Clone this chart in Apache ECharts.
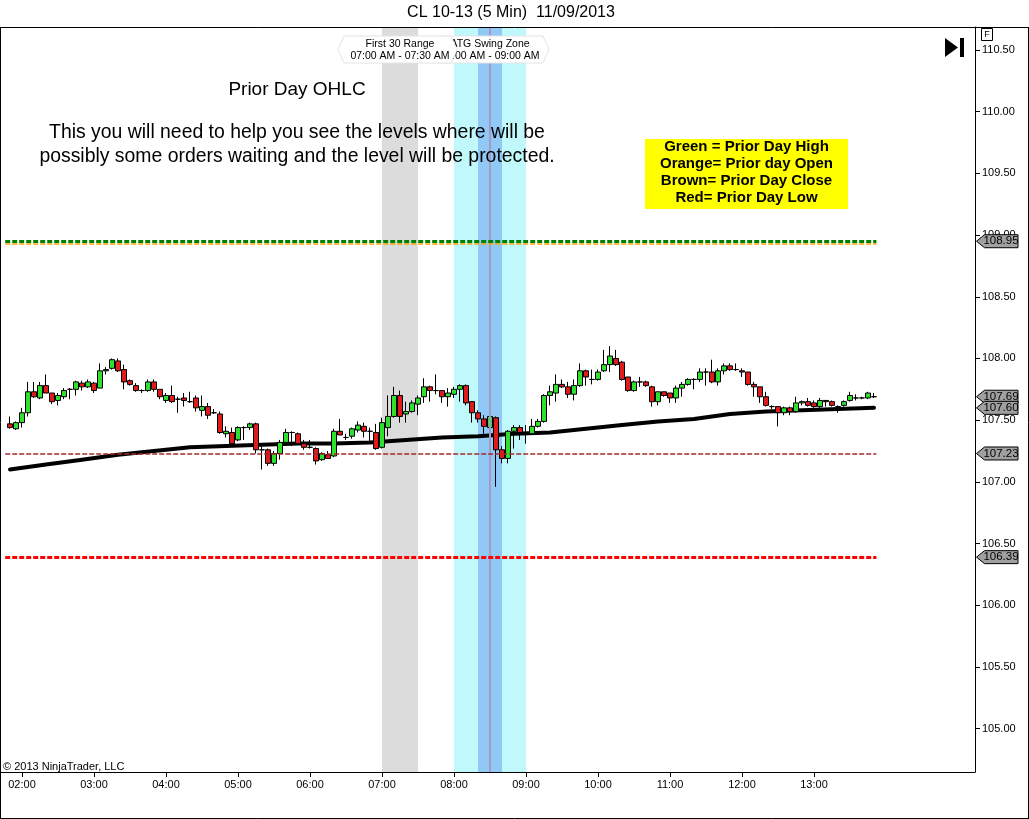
<!DOCTYPE html>
<html>
<head>
<meta charset="utf-8">
<script src="https://cdn.jsdelivr.net/npm/echarts@6/dist/echarts.min.js"></script>
<style>
html,body{margin:0;padding:0;background:#fff;}
#chart{width:1029px;height:819px;}
</style>
</head>
<body>
<div id="chart"></div>
<script>
// ---------------- DATA ----------------
const titleText = 'CL 10-13 (5 Min)  11/09/2013';
const barTimes = [
 '01:50','01:55',
 '02:00','02:05','02:10','02:15','02:20','02:25','02:30','02:35','02:40','02:45','02:50','02:55',
 '03:00','03:05','03:10','03:15','03:20','03:25','03:30','03:35','03:40','03:45','03:50','03:55',
 '04:00','04:05','04:10','04:15','04:20','04:25','04:30','04:35','04:40','04:45','04:50','04:55',
 '05:00','05:05','05:10','05:15','05:20','05:25','05:30','05:35','05:40','05:45','05:50','05:55',
 '06:00','06:05','06:10','06:15','06:20','06:25','06:30','06:35','06:40','06:45','06:50','06:55',
 '07:00','07:05','07:10','07:15','07:20','07:25','07:30','07:35','07:40','07:45','07:50','07:55',
 '08:00','08:05','08:10','08:15','08:20','08:25','08:30','08:35','08:40','08:45','08:50','08:55',
 '09:00','09:05','09:10','09:15','09:20','09:25','09:30','09:35','09:40','09:45','09:50','09:55',
 '10:00','10:05','10:10','10:15','10:20','10:25','10:30','10:35','10:40','10:45','10:50','10:55',
 '11:00','11:05','11:10','11:15','11:20','11:25','11:30','11:35','11:40','11:45','11:50','11:55',
 '12:00','12:05','12:10','12:15','12:20','12:25','12:30','12:35','12:40','12:45','12:50','12:55',
 '13:00','13:05','13:10','13:15','13:20','13:25','13:30','13:35','13:40','13:45','13:50'
];
const opens = [
 107.47,107.43,107.48,107.56,107.73,107.68,107.78,107.72,107.66,107.69,
 107.75,107.75,107.80,107.77,107.80,107.76,107.90,107.92,107.98,107.91,
 107.82,107.78,107.74,107.74,107.81,107.75,107.66,107.70,107.67,107.68,
 107.65,107.68,107.58,107.61,107.56,107.55,107.39,107.40,107.34,107.44,
 107.44,107.47,107.26,107.26,107.15,107.23,107.32,107.40,107.39,107.31,
 107.28,107.27,107.18,107.22,107.21,107.41,107.36,107.37,107.42,107.45,
 107.41,107.40,107.28,107.44,107.53,107.70,107.55,107.57,107.63,107.69,
 107.77,107.74,107.74,107.69,107.71,107.75,107.78,107.65,107.56,107.51,
 107.44,107.52,107.26,107.19,107.41,107.44,107.39,107.39,107.45,107.49,
 107.70,107.72,107.79,107.77,107.71,107.78,107.90,107.83,107.83,107.90,
 107.95,108.00,107.97,107.85,107.74,107.81,107.81,107.77,107.65,107.73,
 107.72,107.68,107.76,107.79,107.83,107.83,107.89,107.89,107.81,107.90,
 107.94,107.91,107.90,107.89,107.79,107.77,107.69,107.61,107.61,107.56,
 107.60,107.57,107.64,107.65,107.64,107.61,107.66,107.65,107.61,107.62,
 107.66,107.68,107.68,107.68,107.69
];
const closes = [
 107.44,107.48,107.56,107.73,107.69,107.78,107.72,107.65,107.70,107.74,
 107.75,107.81,107.77,107.81,107.74,107.90,107.91,107.99,107.90,107.81,
 107.79,107.74,107.74,107.81,107.75,107.69,107.70,107.65,107.67,107.66,
 107.65,107.60,107.61,107.54,107.56,107.40,107.41,107.31,107.44,107.44,
 107.47,107.26,107.26,107.15,107.23,107.32,107.40,107.40,107.31,107.28,
 107.28,107.17,107.23,107.19,107.41,107.38,107.36,107.43,107.46,107.41,
 107.41,107.27,107.48,107.53,107.70,107.53,107.57,107.64,107.68,107.77,
 107.74,107.74,107.69,107.72,107.75,107.78,107.64,107.56,107.51,107.45,
 107.53,107.26,107.19,107.41,107.44,107.40,107.39,107.45,107.49,107.70,
 107.73,107.79,107.77,107.71,107.78,107.90,107.85,107.83,107.89,107.95,
 108.02,107.95,107.83,107.74,107.81,107.81,107.78,107.65,107.73,107.70,
 107.68,107.76,107.79,107.83,107.83,107.89,107.89,107.81,107.90,107.94,
 107.91,107.91,107.89,107.79,107.77,107.69,107.62,107.61,107.56,107.60,
 107.57,107.64,107.65,107.62,107.61,107.66,107.65,107.62,107.61,107.65,
 107.70,107.68,107.68,107.72,107.69
];
const lows = [
 107.43,107.42,107.44,107.53,107.68,107.67,107.72,107.63,107.62,107.67,
 107.67,107.70,107.74,107.76,107.72,107.76,107.87,107.91,107.89,107.75,
 107.78,107.73,107.72,107.73,107.73,107.67,107.64,107.64,107.56,107.61,
 107.64,107.57,107.53,107.51,107.55,107.39,107.36,107.30,107.33,107.34,
 107.42,107.23,107.10,107.13,107.13,107.18,107.30,107.29,107.30,107.26,
 107.27,107.14,107.17,107.19,107.20,107.38,107.34,107.35,107.40,107.36,
 107.32,107.26,107.27,107.37,107.52,107.48,107.48,107.56,107.54,107.64,
 107.65,107.71,107.64,107.61,107.68,107.65,107.62,107.48,107.48,107.39,
 107.39,106.96,107.15,107.15,107.27,107.34,107.31,107.38,107.44,107.48,
 107.62,107.65,107.76,107.68,107.66,107.77,107.78,107.79,107.82,107.89,
 107.89,107.94,107.82,107.73,107.73,107.77,107.77,107.61,107.62,107.69,
 107.64,107.64,107.69,107.78,107.75,107.81,107.78,107.80,107.78,107.87,
 107.90,107.90,107.85,107.78,107.69,107.64,107.61,107.59,107.45,107.54,
 107.54,107.56,107.62,107.61,107.60,107.60,107.61,107.61,107.56,107.61,
 107.65,107.66,107.67,107.67,107.68
];
const highs = [
 107.53,107.49,107.60,107.81,107.81,107.81,107.87,107.72,107.72,107.76,
 107.76,107.82,107.82,107.83,107.81,107.96,107.93,108.00,108.00,107.95,
 107.83,107.80,107.75,107.83,107.83,107.75,107.72,107.78,107.69,107.72,
 107.73,107.70,107.70,107.64,107.59,107.57,107.45,107.44,107.45,107.45,
 107.48,107.48,107.29,107.27,107.25,107.34,107.43,107.41,107.40,107.34,
 107.34,107.28,107.24,107.25,107.43,107.51,107.39,107.44,107.49,107.48,
 107.44,107.47,107.52,107.70,107.77,107.74,107.65,107.66,107.70,107.84,
 107.78,107.87,107.74,107.76,107.77,107.79,107.79,107.65,107.58,107.54,
 107.58,107.53,107.29,107.42,107.46,107.46,107.46,107.51,107.51,107.71,
 107.78,107.87,107.83,107.81,107.83,107.96,107.91,107.91,107.91,108.07,
 108.10,108.07,107.98,107.85,107.82,107.85,107.82,107.78,107.73,107.73,
 107.72,107.78,107.81,107.84,107.84,107.92,107.92,107.99,107.92,107.96,
 107.96,107.96,107.92,107.89,107.81,107.77,107.73,107.62,107.61,107.61,
 107.61,107.69,107.66,107.68,107.66,107.68,107.66,107.66,107.62,107.66,
 107.73,107.71,107.69,107.73,107.72
];
const smaTimes = ['01:50','02:20','02:50','03:20','03:50','04:20','04:50','05:20','05:50','06:20','06:50','07:20','07:50',
                  '08:20','08:50','09:20','09:50','10:20','10:50','11:20','11:50','12:20','12:50','13:20','13:50'];
const smaValues = [107.10,107.14,107.18,107.22,107.25,107.28,107.29,107.30,107.31,107.31,107.32,107.34,107.36,
                   107.37,107.39,107.40,107.43,107.46,107.49,107.51,107.55,107.57,107.58,107.59,107.60];
const levelNames = ['Prior Day High','Prior Day Open','Prior Day Close','Prior Day Low'];
const levelValues = [108.95, 108.93, 107.23, 106.39];
const priceTicks = [105.00,105.50,106.00,106.50,107.00,107.50,108.00,108.50,109.00,109.50,110.00,110.50];
const hourTicks = ['02:00','03:00','04:00','05:00','06:00','07:00','08:00','09:00','10:00','11:00','12:00','13:00'];
const zoneNames = ['First 30 Range','ATG Swing Zone'];
const zoneStarts = ['07:00','08:00'];
const zoneEnds = ['07:30','09:00'];
const zoneRangeLabels = ['07:00 AM - 07:30 AM','08:00 AM - 09:00 AM'];
const coreZone = ['08:20','08:40'];
const zoneMid = '08:30';
const noteTitle = 'Prior Day OHLC';
const noteLines = ['This you will need to help you see the levels where will be',
                   'possibly some orders waiting and the level will be protected.'];
const legendLines = ['Green = Prior Day High','Orange= Prior day Open','Brown= Prior Day Close','Red= Prior Day Low'];
const copyright = '\u00A9 2013 NinjaTrader, LLC';

// ---------------- HELPERS ----------------
const FONT = "'Liberation Sans', Arial, sans-serif";
function toMin(s){ const p = s.split(':'); return (+p[0])*60 + (+p[1]); }
function fmtMin(m){ const h = Math.floor(m/60), mm = Math.round(m%60); return String(h).padStart(2,'0')+':'+String(mm).padStart(2,'0'); }

const candleData = barTimes.map((t,i)=>[toMin(t), opens[i], closes[i], lows[i], highs[i]]);
const smaData = smaTimes.map((t,i)=>[toMin(t), smaValues[i]]);
const tFirst = toMin(barTimes[0]), tLast = toMin(barTimes[barTimes.length-1]);
const lineStart = tFirst - 4, lineEnd = tLast + 2;

const levelStyles = [
  {color:'#008000', width:3, type:[5,2]},
  {color:'#ffa500', width:1.5, type:[5,2]},
  {color:'#a52a2a', width:1.5, type:[5,2]},
  {color:'#ff0000', width:3, type:[5,2]}
];

const chart = echarts.init(document.getElementById('chart'), null, {renderer:'canvas'});

const option = {
  animation:false,
  backgroundColor:'#ffffff',
  grid:{left:1, right:54, top:27, bottom:47, containLabel:false},
  xAxis:{
    type:'value', min:102.5, max:914.17,
    splitLine:{show:false},
    axisLine:{show:true, lineStyle:{color:'#000', width:1}},
    axisTick:{show:true, length:5, lineStyle:{color:'#000'}, customValues: hourTicks.map(toMin)},
    axisLabel:{show:true, color:'#000', fontSize:11, fontFamily:FONT, margin:7,
               customValues: hourTicks.map(toMin), formatter:(v)=>fmtMin(v)}
  },
  yAxis:{
    type:'value', position:'right', min:104.649, max:110.686, scale:true,
    splitLine:{show:false},
    axisLine:{show:true, onZero:false, lineStyle:{color:'#000', width:1}},
    axisTick:{show:true, length:5, inside:false, lineStyle:{color:'#000'}, customValues: priceTicks},
    axisLabel:{show:true, color:'#000', fontSize:11, fontFamily:FONT, margin:7,
               customValues: priceTicks, formatter:(v)=>v.toFixed(2)}
  },
  series:[
    {
      name:'zones', type:'line', data:[], z:1, silent:true,
      markArea:{
        silent:true, label:{show:false},
        data:[
          [{xAxis:toMin(zoneStarts[0]), itemStyle:{color:'#dcdcdc'}},{xAxis:toMin(zoneEnds[0])}],
          [{xAxis:toMin(zoneStarts[1]), itemStyle:{color:'#c0f8fc'}},{xAxis:toMin(zoneEnds[1])}],
          [{xAxis:toMin(coreZone[0]), itemStyle:{color:'#90c8f6'}},{xAxis:toMin(coreZone[1])}]
        ]
      },
      markLine:{
        silent:true, symbol:['none','none'], label:{show:false},
        data:[{xAxis:toMin(zoneMid), lineStyle:{color:'#a69ac4', width:2, type:'solid'}}]
      }
    },
    {
      name:'levels', type:'line', data:[], z:2, silent:true,
      markLine:{
        silent:true, symbol:['none','none'], label:{show:false},
        data: levelValues.map((v,i)=>[
          {name:levelNames[i], coord:[lineStart, v], lineStyle:levelStyles[i]},
          {coord:[lineEnd, v]}
        ])
      }
    },
    {
      name:'SMA', type:'line', data:smaData, z:3, symbol:'none', silent:true,
      lineStyle:{color:'#000', width:4, join:'round', cap:'round'}
    },
    {
      name:'CL 10-13', type:'candlestick', data:candleData, z:4, barWidth:5, silent:true,
      itemStyle:{color:'#2fe02f', color0:'#e01b1b', borderColor:'#000', borderColor0:'#000', borderColorDoji:'#000', borderWidth:1}
    }
  ]
};
chart.setOption(option);

// ---------------- ANNOTATIONS ----------------
function px(t, v){ return chart.convertToPixel({gridIndex:0}, [t, v]); }
const g = [];

// frame
g.push({type:'line', shape:{x1:0, y1:27.5, x2:1029, y2:27.5}, style:{stroke:'#000', lineWidth:1}, z:50});
g.push({type:'line', shape:{x1:0.5, y1:27, x2:0.5, y2:818}, style:{stroke:'#000', lineWidth:1}, z:50});
g.push({type:'line', shape:{x1:1028.5, y1:27, x2:1028.5, y2:818}, style:{stroke:'#000', lineWidth:1}, z:50});
g.push({type:'line', shape:{x1:0, y1:818.5, x2:1029, y2:818.5}, style:{stroke:'#000', lineWidth:1}, z:50});

// title
g.push({type:'text', x:511, y:13, style:{text:titleText, font:'16px '+FONT, fill:'#000', textAlign:'center', textVerticalAlign:'middle'}, z:50});

// zone labels (second drawn first, first drawn on top)
function zoneBox(cx, l1, l2, zz, leftOff, rightOff){
  const x0 = cx - leftOff, x1 = cx + rightOff, y0 = 36, y1 = 63, yc = (y0+y1)/2;
  g.push({type:'polygon', shape:{points:[[x0,yc],[x0+6,y0],[x1-6,y0],[x1,yc],[x1-6,y1],[x0+6,y1]]},
          style:{fill:'#ffffff', stroke:'#e4e4e4', lineWidth:1}, z:zz});
  g.push({type:'text', x:cx, y:44, style:{text:l1, font:'10.5px '+FONT, fill:'#000', textAlign:'center', textVerticalAlign:'middle'}, z:zz+1});
  g.push({type:'text', x:cx, y:56, style:{text:l2, font:'10.5px '+FONT, fill:'#000', textAlign:'center', textVerticalAlign:'middle'}, z:zz+1});
}
const c2 = px(toMin(zoneMid), 108)[0];
const c1 = (px(toMin(zoneStarts[0]),108)[0] + px(toMin(zoneEnds[0]),108)[0]) / 2;
zoneBox(c2, zoneNames[1], zoneRangeLabels[1], 20, 58, 59);
zoneBox(c1, zoneNames[0], zoneRangeLabels[0], 30, 62, 57);

// notes
g.push({type:'text', x:297, y:90, style:{text:noteTitle, font:'19px '+FONT, fill:'#000', textAlign:'center', textVerticalAlign:'middle'}, z:40});
g.push({type:'text', x:297, y:133, style:{text:noteLines[0], font:'19.4px '+FONT, fill:'#000', textAlign:'center', textVerticalAlign:'middle'}, z:40});
g.push({type:'text', x:297, y:157, style:{text:noteLines[1], font:'19.4px '+FONT, fill:'#000', textAlign:'center', textVerticalAlign:'middle'}, z:40});

// legend box
g.push({type:'rect', shape:{x:645, y:139, width:203, height:70}, style:{fill:'#ffff00'}, z:40});
legendLines.forEach((s,i)=>{
  g.push({type:'text', x:746.5, y:147+i*17, style:{text:s, font:'bold 15px '+FONT, fill:'#000', textAlign:'center', textVerticalAlign:'middle'}, z:41});
});

// copyright
g.push({type:'text', x:3, y:767, style:{text:copyright, font:'11px '+FONT, fill:'#000', textAlign:'left', textVerticalAlign:'middle'}, z:40});

// play-to-end icon and F box
g.push({type:'polygon', shape:{points:[[945,38],[945,57],[958,47.5]]}, style:{fill:'#000'}, z:40});
g.push({type:'rect', shape:{x:960, y:38, width:4, height:19}, style:{fill:'#000'}, z:40});
g.push({type:'rect', shape:{x:981.5, y:28.5, width:11, height:12}, style:{fill:'#fff', stroke:'#000', lineWidth:1}, z:40});
g.push({type:'text', x:987, y:34.5, style:{text:'F', font:'9px '+FONT, fill:'#000', textAlign:'center', textVerticalAlign:'middle'}, z:41});

// price tags on the right axis
const tagValues = [levelValues[0], levelValues[2], levelValues[3], closes[closes.length-1], smaValues[smaValues.length-1]];
tagValues.forEach((v,i)=>{
  const y = px(tLast, v)[1];
  const xl = 976.5, xr = 1018, h = 6.5;
  g.push({type:'polygon', shape:{points:[[xl,y],[xl+8,y-h],[xr,y-h],[xr,y+h],[xl+8,y+h]]},
          style:{fill:'#a0a0a0', stroke:'#000', lineWidth:1}, z:60+i*2});
  g.push({type:'text', x:1001, y:y, style:{text:v.toFixed(2), font:'11.5px '+FONT, fill:'#000', textAlign:'center', textVerticalAlign:'middle'}, z:61+i*2});
});

chart.setOption({graphic:{elements:g}});
</script>
</body>
</html>
